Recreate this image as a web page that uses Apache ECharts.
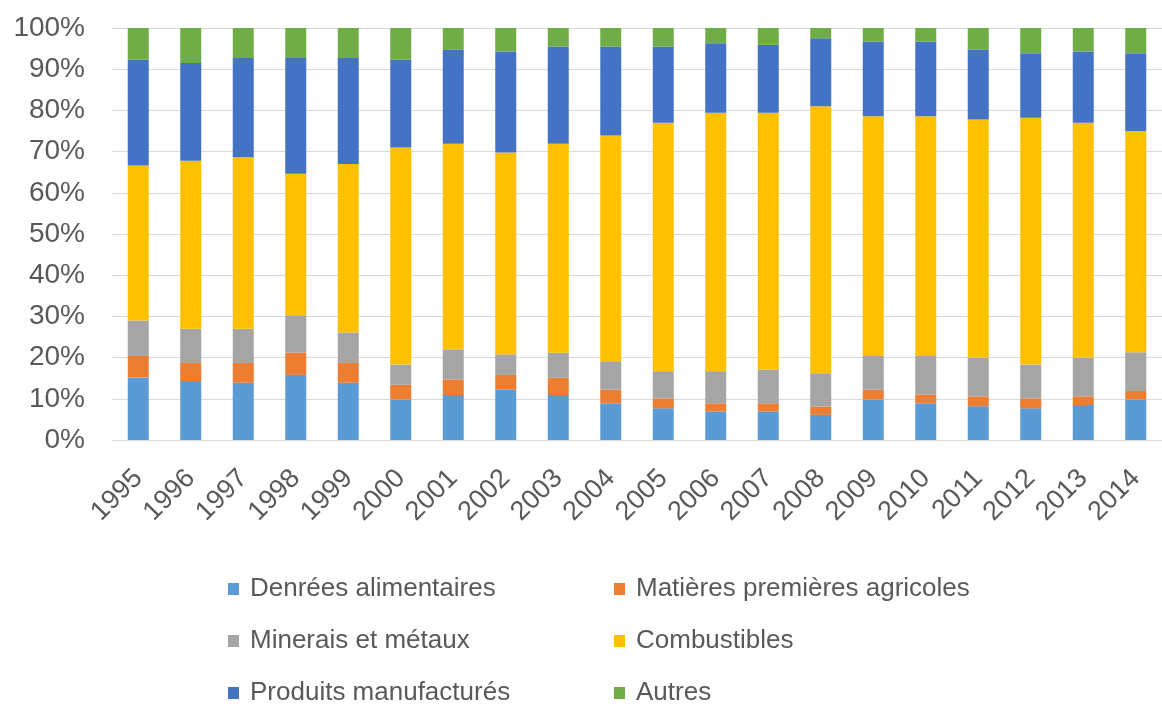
<!DOCTYPE html>
<html>
<head>
<meta charset="utf-8">
<script src="https://cdn.jsdelivr.net/npm/echarts@6/dist/echarts.min.js"></script>
<style>
  html, body { margin: 0; padding: 0; background: #fff; }
  #chart { width: 1162px; height: 704px; }
</style>
</head>
<body>
<div id="chart"></div>
<script>
// Structure des exportations (% du total), 1995-2014
const years = ['1995','1996','1997','1998','1999','2000','2001','2002','2003','2004',
               '2005','2006','2007','2008','2009','2010','2011','2012','2013','2014'];

const denrees     = [15.2,14.3,13.9,15.8,13.9, 9.8,10.9,12.2,10.9, 8.9, 7.7, 6.9, 6.9, 6.1, 9.8, 8.9, 8.2, 7.7, 8.5, 9.8];
const matieres    = [ 5.2, 4.4, 4.8, 5.4, 4.8, 3.6, 3.8, 3.6, 4.2, 3.3, 2.4, 2.0, 2.0, 2.0, 2.4, 2.1, 2.4, 2.4, 2.1, 2.1];
const minerais    = [ 8.6, 8.3, 8.3, 9.1, 7.4, 4.9, 7.3, 5.0, 6.1, 6.9, 6.6, 7.8, 8.2, 8.1, 8.2, 9.4, 9.4, 8.2, 9.4, 9.4];
const combustibles= [37.6,40.8,41.6,34.3,40.9,52.7,49.9,49.0,50.7,54.8,60.3,62.7,62.3,64.8,58.2,58.2,57.8,59.9,57.0,53.7];
const produits    = [25.7,23.7,24.1,28.1,25.7,21.3,22.8,24.5,23.6,21.6,18.5,16.9,16.5,16.5,18.1,18.1,16.9,15.7,17.3,18.9];
const autres      = [ 7.7, 8.5, 7.3, 7.3, 7.3, 7.7, 5.3, 5.7, 4.5, 4.5, 4.5, 3.7, 4.1, 2.5, 3.3, 3.3, 5.3, 6.1, 5.7, 6.1];

const seriesDefs = [
  { name: 'Denrées alimentaires',         data: denrees,      color: '#5B9BD5' },
  { name: 'Matières premières agricoles', data: matieres,     color: '#ED7D31' },
  { name: 'Minerais et métaux',           data: minerais,     color: '#A5A5A5' },
  { name: 'Combustibles',                 data: combustibles, color: '#FFC000' },
  { name: 'Produits manufacturés',        data: produits,     color: '#4472C4' },
  { name: 'Autres',                       data: autres,       color: '#70AD47' }
];

const font = '"Liberation Sans", Arial, sans-serif';
const textGray = '#595959';

// Two legend columns, three rows each
const legendCommon = {
  orient: 'vertical',
  top: 569,
  height: 150,
  itemWidth: 11,
  itemHeight: 12,
  itemGap: 22,
  icon: 'rect',
  selectedMode: false,
  textStyle: { fontFamily: font, fontSize: 26, color: textGray, padding: [0, 0, 0, 6], lineHeight: 30 }
};

const chart = echarts.init(document.getElementById('chart'), null, { renderer: 'canvas' });
chart.setOption({
  animation: false,
  backgroundColor: '#ffffff',
  grid: { left: 112, top: 28, width: 1061, height: 412, containLabel: false },
  xAxis: {
    type: 'category',
    data: years,
    axisTick: { show: false },
    axisLine: { lineStyle: { color: '#D9D9D9', width: 1 } },
    axisLabel: { rotate: 45, interval: 0, margin: 34, fontFamily: font, fontSize: 27, color: textGray }
  },
  yAxis: {
    type: 'value',
    min: 0,
    max: 100,
    interval: 10,
    axisLine: { show: false },
    axisTick: { show: false },
    splitLine: { lineStyle: { color: '#D9D9D9', width: 1 } },
    axisLabel: { formatter: '{value}%', margin: 27, fontFamily: font, fontSize: 28, color: textGray }
  },
  legend: [
    Object.assign({}, legendCommon, { left: 223, data: ['Denrées alimentaires', 'Minerais et métaux', 'Produits manufacturés'] }),
    Object.assign({}, legendCommon, { left: 609, data: ['Matières premières agricoles', 'Combustibles', 'Autres'] })
  ],
  series: seriesDefs.map(s => ({
    name: s.name,
    type: 'bar',
    stack: 'total',
    barWidth: 21,
    data: s.data,
    itemStyle: { color: s.color }
  }))
});
</script>
</body>
</html>
